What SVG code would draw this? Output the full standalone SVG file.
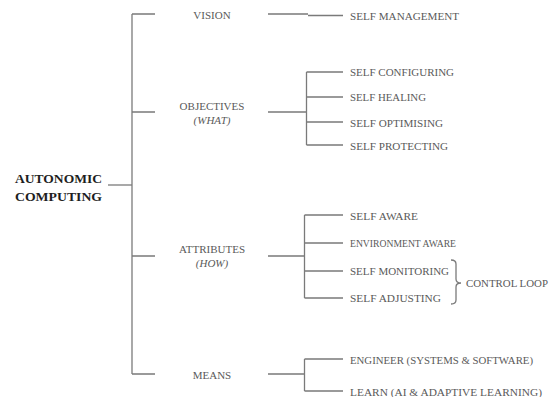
<svg xmlns="http://www.w3.org/2000/svg" width="552" height="397" viewBox="0 0 552 397">
  <style>
    .ln { stroke: #7a7a7a; stroke-width: 1.3; fill: none; }
    .t { font-family: "Liberation Serif", "Times New Roman", serif; font-size: 11px; fill: #5a5a5a; }
    .c { text-anchor: middle; }
    .i { font-style: italic; }
    .root { font-family: "Liberation Serif", "Times New Roman", serif; font-size: 13.5px; font-weight: bold; fill: #1e1e1e; text-anchor: middle; }
  </style>
  <rect width="552" height="397" fill="#ffffff"/>

  <g id="connectors">
    <!-- root to trunk -->
    <path class="ln" d="M108 185 H132"/>
    <path class="ln" d="M132 14 V374"/>
    <path class="ln" d="M132 14 H155 M132 112 H155 M132 256 H155 M132 374 H155"/>
    <!-- vision -->
    <path class="ln" d="M268 14 H308 M308 15.5 H343"/>
    <!-- objectives -->
    <path class="ln" d="M268 112 H306.5 M306.5 72 V145 M306.5 72 H343 M306.5 97 H343 M306.5 122 H343 M306.5 145 H343"/>
    <!-- attributes -->
    <path class="ln" d="M268 256 H304.5 M304.5 215 V298 M304.5 215 H343 M304.5 243 H343 M304.5 271 H343 M304.5 298 H343"/>
    <!-- means -->
    <path class="ln" d="M268 374 H304.5 M304.5 359 V391 M304.5 359 H343 M304.5 391 H343"/>
  </g>

  <g id="root">
    <text class="root" x="58.5" y="183" textLength="87" lengthAdjust="spacingAndGlyphs">AUTONOMIC</text>
    <text class="root" x="58.5" y="201" textLength="87" lengthAdjust="spacingAndGlyphs">COMPUTING</text>
  </g>

  <g id="vision">
    <text class="t c" x="212" y="18.5">VISION</text>
  </g>
  <g id="objectives">
    <text class="t c" x="212" y="110">OBJECTIVES</text>
    <text class="t c i" x="212" y="124">(WHAT)</text>
  </g>
  <g id="attributes">
    <text class="t c" x="212" y="253">ATTRIBUTES</text>
    <text class="t c i" x="212" y="267">(HOW)</text>
  </g>
  <g id="means">
    <text class="t c" x="212" y="379">MEANS</text>
  </g>

  <g id="self-management"><text class="t" x="350" y="19.5" textLength="109" lengthAdjust="spacingAndGlyphs">SELF MANAGEMENT</text></g>

  <g id="self-configuring"><text class="t" x="350" y="76" textLength="104" lengthAdjust="spacingAndGlyphs">SELF CONFIGURING</text></g>
  <g id="self-healing"><text class="t" x="350" y="101" textLength="76" lengthAdjust="spacingAndGlyphs">SELF HEALING</text></g>
  <g id="self-optimising"><text class="t" x="350" y="126.5" textLength="93" lengthAdjust="spacingAndGlyphs">SELF OPTIMISING</text></g>
  <g id="self-protecting"><text class="t" x="350" y="149.5" textLength="98" lengthAdjust="spacingAndGlyphs">SELF PROTECTING</text></g>

  <g id="self-aware"><text class="t" x="350" y="219.5" textLength="68" lengthAdjust="spacingAndGlyphs">SELF AWARE</text></g>
  <g id="environment-aware"><text class="t" x="350" y="247" textLength="106" lengthAdjust="spacingAndGlyphs">ENVIRONMENT AWARE</text></g>
  <g id="self-monitoring"><text class="t" x="350" y="275" textLength="99" lengthAdjust="spacingAndGlyphs">SELF MONITORING</text></g>
  <g id="self-adjusting"><text class="t" x="350" y="302" textLength="91" lengthAdjust="spacingAndGlyphs">SELF ADJUSTING</text></g>

  <g id="control-loop">
    <path class="ln" d="M451 260 Q456 260 456 264 V279 Q456 283 461 283 Q456 283 456 287 V300 Q456 304 451 304"/>
    <text class="t" x="466" y="287" textLength="82" lengthAdjust="spacingAndGlyphs">CONTROL LOOP</text>
  </g>

  <g id="engineer"><text class="t" x="350" y="363.5" textLength="183" lengthAdjust="spacingAndGlyphs">ENGINEER (SYSTEMS &amp; SOFTWARE)</text></g>
  <g id="learn"><text class="t" x="350" y="395.5" textLength="192" lengthAdjust="spacingAndGlyphs">LEARN  (AI &amp; ADAPTIVE LEARNING)</text></g>
</svg>
